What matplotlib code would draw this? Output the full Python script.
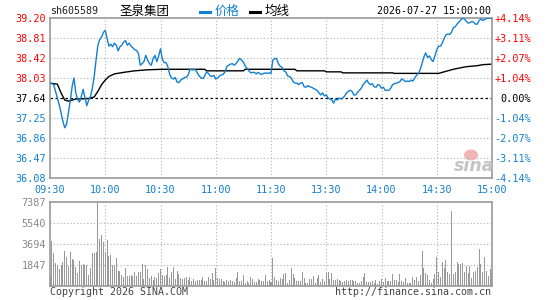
import matplotlib
matplotlib.use('Agg')
import matplotlib.pyplot as plt
from matplotlib.lines import Line2D
from matplotlib.patches import Ellipse

# ---- data (one value per minute, 09:30 .. 11:30, 13:01 .. 15:00) ----
price = [
    37.93, 37.92, 37.90, 37.77, 37.64, 37.51, 37.35, 37.19, 37.06, 37.13,
    37.35, 37.58, 37.86, 38.03, 37.74, 37.61, 37.56, 37.67, 37.81, 37.64,
    37.49, 37.60, 37.67, 37.83, 38.06, 38.38, 38.67, 38.78, 38.83, 38.92,
    38.96, 38.80, 38.65, 38.69, 38.64, 38.71, 38.67, 38.56, 38.64, 38.67,
    38.73, 38.76, 38.67, 38.71, 38.65, 38.62, 38.58, 38.57, 38.51, 38.28,
    38.31, 38.35, 38.47, 38.38, 38.31, 38.28, 38.41, 38.47, 38.35, 38.46,
    38.60, 38.40, 38.33, 38.33, 38.25, 38.10, 38.03, 38.01, 38.04, 37.95,
    37.94, 37.99, 38.01, 38.04, 38.04, 38.09, 38.20, 38.19, 38.19, 38.19,
    38.13, 38.07, 38.03, 38.02, 38.07, 38.15, 38.12, 38.07, 38.06, 38.08,
    38.01, 38.03, 38.07, 38.09, 38.10, 38.15, 38.25, 38.28, 38.30, 38.31,
    38.28, 38.31, 38.36, 38.41, 38.38, 38.34, 38.26, 38.22, 38.17, 38.13,
    38.14, 38.14, 38.11, 38.14, 38.11, 38.10, 38.12, 38.13, 38.12, 38.13,
    38.12, 38.38, 38.41, 38.41, 38.31, 38.26, 38.24, 38.17, 38.15, 38.07,
    38.06, 38.03, 37.96, 37.93, 37.93, 37.90, 37.93, 37.94, 37.86, 37.85,
    37.88, 37.86, 37.85, 37.83, 37.81, 37.79, 37.74, 37.70, 37.74, 37.68,
    37.70, 37.64, 37.62, 37.60, 37.54, 37.62, 37.60, 37.64, 37.62, 37.64,
    37.68, 37.74, 37.77, 37.79, 37.77, 37.70, 37.70, 37.75, 37.79, 37.83,
    37.90, 37.94, 37.99, 37.93, 37.90, 37.92, 37.86, 37.85, 37.90, 37.89,
    37.83, 37.85, 37.79, 37.79, 37.79, 37.83, 37.90, 37.92, 37.93, 37.94,
    37.96, 38.01, 37.99, 37.96, 37.97, 37.96, 37.99, 37.97, 38.03, 38.08,
    38.12, 38.19, 38.31, 38.44, 38.52, 38.43, 38.46, 38.39, 38.35, 38.46,
    38.58, 38.65, 38.65, 38.71, 38.80, 38.87, 38.89, 38.88, 38.92, 39.01,
    39.03, 39.08, 39.12, 39.16, 39.20, 39.18, 39.14, 39.10, 39.11, 39.13,
    39.12, 39.08, 39.08, 39.15, 39.18, 39.15, 39.17, 39.19, 39.20, 39.20,
    39.20,
]

# average price line, read at the minutes where it changes
avg_minute = [0, 4, 6, 8, 10, 14, 21, 24, 26, 28, 30, 32, 35, 40, 46, 53, 61,
              84, 85, 105, 106, 133, 134, 149, 150, 158, 159, 186, 187, 211,
              213, 215, 219, 223, 226, 232, 235, 240]
avg_price = [37.93, 37.91, 37.74, 37.60, 37.58, 37.62, 37.63, 37.66, 37.77,
             37.90, 37.99, 38.06, 38.11, 38.14, 38.17, 38.19, 38.20, 38.20,
             38.17, 38.17, 38.20, 38.20, 38.17, 38.17, 38.15, 38.15, 38.13,
             38.13, 38.12, 38.12, 38.14, 38.16, 38.20, 38.23, 38.25, 38.27,
             38.29, 38.30]

volume = [
    850, 4000, 2910, 2030, 1850, 1500, 1850, 2150, 3120, 2530,
    1800, 3030, 2380, 2300, 1650, 1150, 2240, 1850, 1940, 1850,
    1850, 970, 1590, 2910, 2910, 3030, 7387, 4150, 4500, 3860,
    3000, 4060, 2680, 2740, 1850, 1850, 2440, 1350, 1350, 970,
    820, 1590, 910, 910, 970, 850, 1210, 850, 1210, 1210,
    1940, 620, 1850, 1500, 710, 910, 560, 770, 710, 1150,
    1500, 970, 850, 970, 1650, 680, 1270, 1650, 620, 1350,
    1060, 710, 620, 680, 770, 560, 770, 470, 620, 470,
    530, 530, 560, 770, 470, 470, 770, 620, 1150, 530,
    1590, 710, 620, 620, 410, 320, 530, 470, 530, 410,
    320, 710, 1210, 410, 410, 970, 270, 410, 270, 770,
    620, 320, 320, 620, 530, 410, 410, 970, 410, 530,
    320, 2440, 770, 560, 470, 680, 620, 1060, 1150, 270,
    530, 1560, 1060, 680, 470, 470, 470, 1210, 680, 270,
    270, 620, 620, 850, 270, 710, 970, 380, 620, 470,
    1150, 1210, 620, 1150, 530, 530, 620, 530, 410, 320,
    470, 560, 470, 530, 530, 470, 410, 270, 270, 470,
    770, 1150, 320, 320, 320, 470, 270, 530, 180, 470,
    620, 320, 710, 470, 410, 410, 1060, 560, 530, 320,
    1060, 470, 380, 710, 270, 270, 270, 770, 560, 770,
    470, 1000, 3120, 1560, 1150, 970, 530, 270, 620, 1060,
    2530, 1210, 820, 2090, 1560, 2300, 1270, 1060, 6590, 1060,
    1270, 2090, 1940, 1940, 2000, 1270, 1800, 1150, 1800, 680,
    1270, 1350, 1650, 3210, 1940, 1270, 2530, 1300, 900, 1500,
    1100,
]

pre_close = 37.64
price_ticks = [39.20, 38.81, 38.42, 38.03, 37.64, 37.25, 36.86, 36.47, 36.08]
pct_labels = ['+4.14%', '+3.11%', '+2.07%', '+1.04%', '0.00%',
              '-1.04%', '-2.07%', '-3.11%', '-4.14%']
time_ticks = [0, 30, 60, 90, 120, 150, 180, 210, 240]
time_labels = ['09:30', '10:00', '10:30', '11:00', '11:30',
               '13:30', '14:00', '14:30', '15:00']
vol_ticks = [1847, 3694, 5540, 7387]

# ---- style ----
blue = '#1380cf'
red = '#ff0000'
frame = '#999999'
grid_c = '#b0b0b0'
mono = 'DejaVu Sans Mono'
cjk = ['Noto Sans CJK SC', 'DejaVu Sans']
plt.rcParams['font.family'] = mono

W, H = 545, 300
fig = plt.figure(figsize=(W / 100, H / 100), dpi=100)


def fx(px):
    return px / W


def fy(py):
    return 1 - py / H


ax = fig.add_axes([fx(50), fy(178), 442 / W, 160 / H])
axv = fig.add_axes([fx(50), fy(286), 442 / W, 84 / H])

# ---- price panel ----
minutes = list(range(len(price)))
ax.set_xlim(0, 240)
ax.set_ylim(price_ticks[-1], price_ticks[0])
for t in time_ticks[1:-1]:
    ax.axvline(t, color=grid_c, lw=0.8, ls=(0, (1, 2)), zorder=1)
for p in price_ticks[1:-1]:
    if p == pre_close:
        ax.axhline(p, color='black', lw=0.9, ls=(0, (2, 2)), zorder=1)
    else:
        ax.axhline(p, color=grid_c, lw=0.8, ls=(0, (1, 2)), zorder=1)
ax.plot(minutes, price, color=blue, lw=1.0, zorder=3)
ax.plot(avg_minute, avg_price, color='black', lw=1.0, zorder=2)

ax.set_yticks(price_ticks)
ax.set_yticklabels([f'{p:.2f}' for p in price_ticks])
ax.set_xticks(time_ticks)
ax.set_xticklabels(time_labels)
ax.tick_params(length=0, labelsize=7.3, pad=3)
ax.tick_params(axis='x', colors=blue, pad=5)
for lbl, p in zip(ax.get_yticklabels(), price_ticks):
    lbl.set_color(red if p > pre_close else ('black' if p == pre_close else blue))
for s in ax.spines.values():
    s.set_color(frame)
    s.set_linewidth(1.2)

axr = ax.twinx()
axr.set_ylim(ax.get_ylim())
axr.set_yticks(price_ticks)
axr.set_yticklabels(pct_labels)
axr.tick_params(length=0, labelsize=7.3, pad=28)
for lbl, p in zip(axr.get_yticklabels(), price_ticks):
    lbl.set_ha('right')
    lbl.set_color(red if p > pre_close else ('black' if p == pre_close else blue))
for s in axr.spines.values():
    s.set_visible(False)

# ---- volume panel ----
axv.set_xlim(0, 240)
axv.set_ylim(0, vol_ticks[-1])
for t in time_ticks[1:-1]:
    axv.axvline(t, color=grid_c, lw=0.8, ls=(0, (1, 2)), zorder=1)
for v in vol_ticks[:-1]:
    axv.axhline(v, color=grid_c, lw=0.8, ls=(0, (1, 2)), zorder=1)
axv.bar(minutes, volume, width=0.55, color='#999999', linewidth=0, zorder=2)
axv.set_xticks([])
axv.set_yticks(vol_ticks)
axv.set_yticklabels([str(v) for v in vol_ticks])
axv.tick_params(length=0, labelsize=7.3, pad=3, colors='#888888')
for s in axv.spines.values():
    s.set_color(frame)
    s.set_linewidth(1.2)

# ---- header ----
fig.text(fx(50), fy(11), 'sh605589', fontsize=7.2, color='#222222', va='center')
fig.text(fx(120), fy(11), '圣泉集团', fontsize=9, family=cjk, color='black', va='center')
fig.add_artist(Line2D([fx(200), fx(210)], [fy(12), fy(12)], color=blue, lw=2.2))
fig.text(fx(215), fy(11), '价格', fontsize=9, family=cjk, color=blue, va='center')
fig.add_artist(Line2D([fx(250), fx(260)], [fy(12), fy(12)], color='black', lw=2.2))
fig.text(fx(265), fy(11), '均线', fontsize=9, family=cjk, color='black', va='center')
fig.text(fx(491), fy(11), '2026-07-27 15:00:00', fontsize=7.2, color='black',
         ha='right', va='center')

# ---- footer ----
fig.text(fx(50), fy(292), 'Copyright 2026 SINA.COM', fontsize=7.2,
         color='#444444', va='center')
fig.text(fx(491), fy(292), 'http://finance.sina.com.cn', fontsize=7.2,
         color='#444444', ha='right', va='center')

# sina watermark
fig.add_artist(Ellipse((fx(471), fy(155)), 14 / W, 11 / H, color='#f4b4b4', lw=0))
fig.text(fx(474), fy(166), 'sina', fontsize=12.5, fontstyle='italic', fontweight='bold',
         family='DejaVu Sans', color='#c4c4c4', ha='center', va='center')

fig.savefig('out.png', dpi=100)
